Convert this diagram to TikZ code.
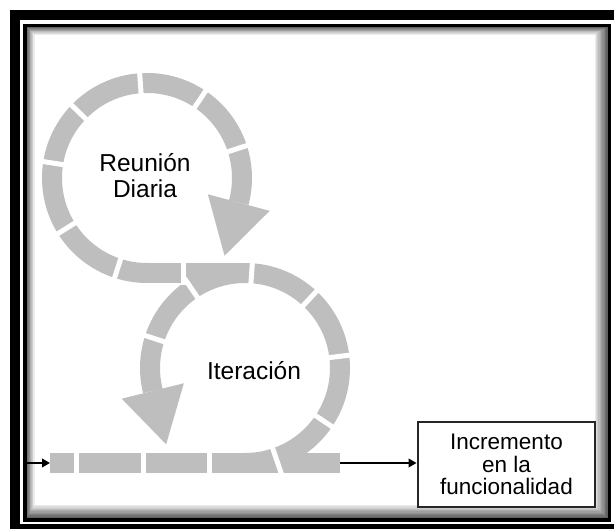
\documentclass[tikz,border=0pt]{standalone}
\usepackage{fontspec}
\setmainfont{Liberation Sans}
\usetikzlibrary{arrows.meta,calc}
\definecolor{band}{RGB}{190,190,190}
\begin{document}
\begin{tikzpicture}[x=1pt,y=1pt,
  bandline/.style={draw=band,line width=20pt,line cap=butt},
  gapcut/.style={draw=white,line width=5pt},
  feedarrow/.style={line width=2.5pt,-{Triangle[length=8pt,width=8.5pt]}},
  looptext/.style={font=\fontsize{24.5}{26}\selectfont,align=center,inner sep=0pt},
  outbox/.style={draw=black!85,line width=2.8pt,minimum width=177pt,minimum height=85pt,
    align=center,font=\fontsize{22.5}{22.5}\selectfont,inner sep=0pt,fill=white},
]
\useasboundingbox (0,0) rectangle (614,529);
\clip (0,0) rectangle (614,529);

% double black frame
\fill[white] (0,0) rectangle (614,529);
\fill[black] (10,-10) rectangle (640,519);
\fill[white] (20,5) rectangle (640,509);
\fill[black] (23,7) rectangle (611,505);
\fill[white] (26.5,11) rectangle (607.5,502);

% soft inner shadow along the inner frame
\foreach \i in {0,...,9} {
  \pgfmathsetmacro\shadelevel{62-6*\i}
  \draw[black!\shadelevel, line width=1.3pt]
    (26.5+0.75*\i+0.65, 11+1.3*\i+0.65) rectangle (607.5-1.3*\i-0.65, 502-0.75*\i-0.65);
}

% loop centres
\coordinate (c1) at (147,351);
\coordinate (c2) at (245,161);

% grey bands
\draw[bandline] (50,66) -- (340,66);
\draw[bandline] (147,256) -- (245,256);
\draw[bandline] ($(c1)+(270:95)$) arc[start angle=270,end angle=-15,radius=95];
\draw[bandline] ($(c2)+(-90:95)$) arc[start angle=-90,end angle=194,radius=95];

% white gaps between the band pieces
\foreach \a in {252,212,171,136,94,56,18}
  \draw[gapcut] ($(c1)+(\a:82)$) -- ($(c1)+(\a:108)$);
\foreach \a in {-34,7,47,86,124,162}
  \draw[gapcut] ($(c2)+(\a:82)$) -- ($(c2)+(\a:108)$);
\draw[gapcut] ($(c2)+(-71:80)$) -- ($(c2)+(-71:115)$);
\foreach \x in {76.5,143.5,209}
  \draw[gapcut] (\x,54) -- (\x,78);
\draw[gapcut] (183,244) -- (183,268);

% arrowheads of both loops
\fill[band] ($(c1)+(-15:127)$) -- ($(c1)+(-15:63)$) -- ($(c1)+(-15:95)+(-105:55)$) -- cycle;
\fill[band] ($(c2)+(194:127)$) -- ($(c2)+(194:63)$) -- ($(c2)+(194:95)+(284:55)$) -- cycle;

% labels
\node[looptext] (daily) at (145,353) {Reunión\\Diaria};
\node[looptext,anchor=base] (sprint) at (254,149) {Iteración};

% output box and black arrows
\node[outbox] (box) at (506.5,64.5) {Incremento\\en la\\funcionalidad};
\coordinate (feedin) at (26.5,66);
\coordinate (bandstart) at (50,66);
\coordinate (bandend) at (340,66);
\draw[feedarrow] (feedin) -- (bandstart);
\draw[feedarrow] (bandend) -- (bandend -| box.west);
\end{tikzpicture}
\end{document}
